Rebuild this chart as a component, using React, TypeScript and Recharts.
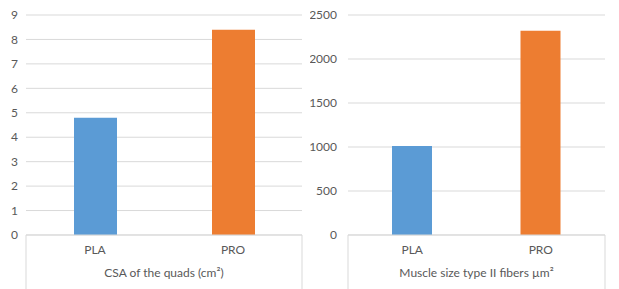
import { BarChart, Bar, XAxis, YAxis, CartesianGrid, Cell } from 'recharts'

const categories = ['PLA', 'PRO']
const csaValues = [4.8, 8.4]
const fiberValues = [1010, 2320]
const barColors = ['#5B9BD5', '#ED7D31']
const csaTicks = [0, 1, 2, 3, 4, 5, 6, 7, 8, 9]
const fiberTicks = [0, 500, 1000, 1500, 2000, 2500]

const csaData = categories.map((name, i) => ({ name, value: csaValues[i] }))
const fiberData = categories.map((name, i) => ({ name, value: fiberValues[i] }))

const textColor = '#595959'
const gridColor = '#d9d9d9'
const font = 'Lato, "Open Sans", sans-serif'

function AxisBox(props: any) {
  const { viewBox, title } = props
  if (!viewBox) return null
  const { x, y, width } = viewBox
  return (
    <g>
      <line x1={x} y1={y} x2={x} y2={289} stroke={gridColor} />
      <line x1={x + width} y1={y} x2={x + width} y2={289} stroke={gridColor} />
      <text x={x + width / 2} y={y + 42} textAnchor="middle" fill={textColor} fontSize={12} fontFamily={font}>
        {title}
      </text>
    </g>
  )
}

interface PanelProps {
  data: { name: string; value: number }[]
  width: number
  ticks: number[]
  yWidth: number
  yMargin: number
  right: number
  barSize: number
  title: string
}

function Panel({ data, width, ticks, yWidth, yMargin, right, barSize, title }: PanelProps) {
  return (
    <BarChart width={width} height={289} data={data} margin={{ top: 15, right, left: 0, bottom: 0 }}>
      <CartesianGrid vertical={false} stroke={gridColor} />
      <XAxis
        dataKey="name"
        height={54}
        tickLine={false}
        tickMargin={4}
        axisLine={{ stroke: gridColor }}
        tick={{ fill: textColor, fontSize: 12, fontFamily: font }}
        label={{ content: (p: any) => <AxisBox {...p} title={title} /> }}
      />
      <YAxis
        width={yWidth}
        tickMargin={yMargin}
        domain={[ticks[0], ticks[ticks.length - 1]]}
        ticks={ticks}
        axisLine={false}
        tickLine={false}
        tick={{ fill: textColor, fontSize: 12, fontFamily: font }}
      />
      <Bar dataKey="value" barSize={barSize} isAnimationActive={false}>
        {data.map((d, i) => (
          <Cell key={d.name} fill={barColors[i]} />
        ))}
      </Bar>
    </BarChart>
  )
}

export default function App() {
  return (
    <div style={{ position: 'absolute', left: 0, top: 0, width: 619, height: 289, display: 'flex', background: '#fff' }}>
      <Panel data={csaData} width={310} ticks={csaTicks} yWidth={26} yMargin={2} right={8} barSize={43} title="CSA of the quads (cm²)" />
      <Panel data={fiberData} width={309} ticks={fiberTicks} yWidth={38} yMargin={5} right={14} barSize={40} title="Muscle size type II fibers µm²" />
    </div>
  )
}
